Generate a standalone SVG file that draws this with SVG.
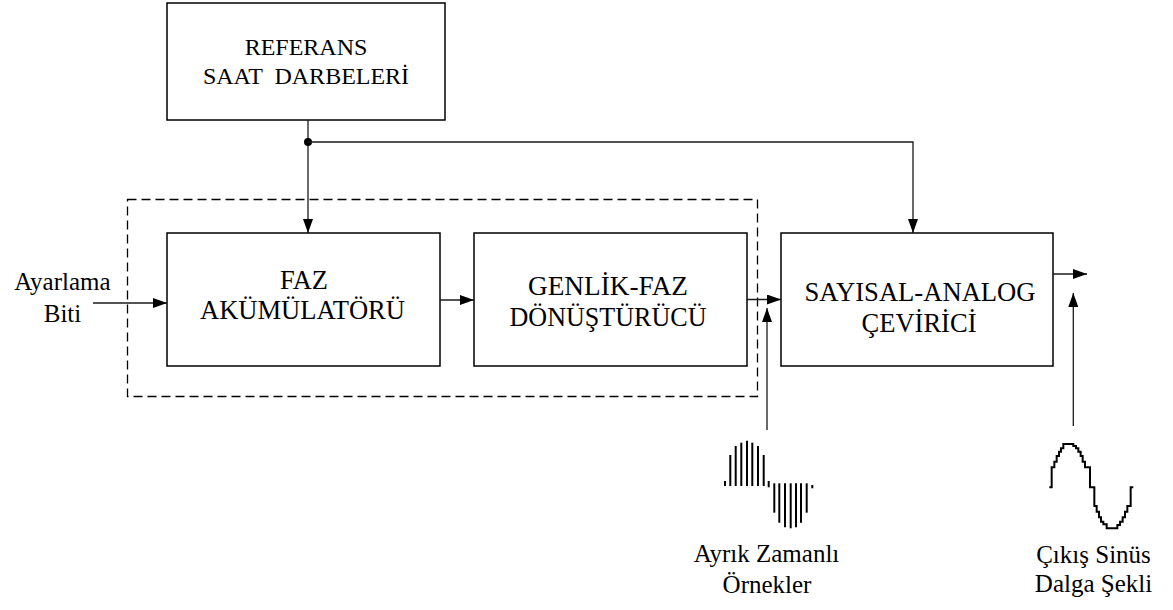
<svg xmlns="http://www.w3.org/2000/svg" width="1173" height="610" viewBox="0 0 1173 610">
  <style>
    .box { fill: #ffffff; stroke: #000000; stroke-width: 1.5; }
    .frame { fill: none; stroke: #000000; stroke-width: 1.3; stroke-dasharray: 9 5; }
    .wire { fill: none; stroke: #1a1a1a; stroke-width: 1.3; }
    text { font-family: "Liberation Serif", "Times New Roman", serif; fill: #000000; text-anchor: middle; }
    .t24 { font-size: 24px; }
    .t28 { font-size: 28px; }
    .t25 { font-size: 25px; }
    .bar { stroke: #000000; stroke-width: 2; }
  </style>
  <defs>
    <marker id="arrow" markerUnits="userSpaceOnUse" markerWidth="14" markerHeight="10" refX="14" refY="5" orient="auto">
      <path d="M0,0 L14,5 L0,10 Z" fill="#000000"/>
    </marker>
  </defs>

  <rect width="1173" height="610" fill="#ffffff"/>

  <!-- dashed outline around the accumulator and phase-to-amplitude stages -->
  <rect class="frame" x="127.5" y="199.5" width="630" height="197"/>

  <g id="clock">
    <rect class="box" x="167" y="3" width="278" height="117"/>
    <text class="t24" x="306" y="55">REFERANS</text>
    <text class="t24" x="306" y="84" xml:space="preserve">SAAT  DARBELERİ</text>
  </g>

  <g id="accumulator">
    <rect class="box" x="167" y="233" width="273" height="133"/>
    <text class="t28" x="304" y="289" textLength="48" lengthAdjust="spacingAndGlyphs">FAZ</text>
    <text class="t28" x="302.5" y="319" textLength="205" lengthAdjust="spacingAndGlyphs">AKÜMÜLATÖRÜ</text>
  </g>

  <g id="converter">
    <rect class="box" x="474" y="233" width="273" height="133"/>
    <text class="t28" x="608" y="295" textLength="160" lengthAdjust="spacingAndGlyphs">GENLİK-FAZ</text>
    <text class="t28" x="608" y="326" textLength="197" lengthAdjust="spacingAndGlyphs">DÖNÜŞTÜRÜCÜ</text>
  </g>

  <g id="dac">
    <rect class="box" x="781" y="233" width="272" height="133"/>
    <text class="t28" x="920" y="301" textLength="231" lengthAdjust="spacingAndGlyphs">SAYISAL-ANALOG</text>
    <text class="t28" x="919" y="332" textLength="115" lengthAdjust="spacingAndGlyphs">ÇEVİRİCİ</text>
  </g>

  <g id="input-label">
    <text class="t25" x="62.5" y="290">Ayarlama</text>
    <text class="t25" x="62.5" y="322">Biti</text>
  </g>

  <g id="samples">
    <line class="bar" x1="725" y1="481" x2="725" y2="486"/>
    <line class="bar" x1="730.3" y1="455" x2="730.3" y2="486"/>
    <line class="bar" x1="735.7" y1="446" x2="735.7" y2="486"/>
    <line class="bar" x1="741.3" y1="442.7" x2="741.3" y2="486"/>
    <line class="bar" x1="747" y1="440.7" x2="747" y2="486"/>
    <line class="bar" x1="752.3" y1="442.7" x2="752.3" y2="486"/>
    <line class="bar" x1="758" y1="446" x2="758" y2="486"/>
    <line class="bar" x1="763.7" y1="455" x2="763.7" y2="486"/>
    <line class="bar" x1="768.7" y1="481" x2="768.7" y2="487.3"/>
    <line class="bar" x1="774.3" y1="483.3" x2="774.3" y2="512.7"/>
    <line class="bar" x1="779.3" y1="483.3" x2="779.3" y2="522.7"/>
    <line class="bar" x1="785" y1="483.3" x2="785" y2="527.3"/>
    <line class="bar" x1="790.7" y1="483.3" x2="790.7" y2="528.3"/>
    <line class="bar" x1="796" y1="483.3" x2="796" y2="527.3"/>
    <line class="bar" x1="801" y1="483.3" x2="801" y2="522.7"/>
    <line class="bar" x1="806.7" y1="483.3" x2="806.7" y2="512.7"/>
    <line class="bar" x1="812.3" y1="485" x2="812.3" y2="488.3"/>
    <text class="t25" x="766.5" y="562">Ayrık Zamanlı</text>
    <text class="t25" x="767" y="593">Örnekler</text>
  </g>

  <g id="sine-output">
    <path transform="translate(1040,430) scale(0.33333)" fill="none" stroke="#000000" stroke-width="6"
          d="M28,172 H35 V112 H43 V95 H50 V78 H57 V65 H63 V55 H70 V42 H100 V48 H108 V55 H115 V65 H122 V78 H128 V95 H135 V112 H150 V172 H163 V228 H170 V245 H177 V262 H183 V275 H190 V283 H200 V295 H232 V285 H240 V275 H248 V262 H255 V245 H262 V228 H272 V172 H280"/>
    <text class="t25" x="1093.5" y="563">Çıkış Sinüs</text>
    <text class="t25" x="1093.5" y="592">Dalga Şekli</text>
  </g>

  <g id="connectors">
    <line class="wire" x1="308" y1="120" x2="308" y2="233" marker-end="url(#arrow)"/>
    <circle cx="308" cy="142" r="4" fill="#000000"/>
    <polyline class="wire" points="308,142 913,142 913,233" marker-end="url(#arrow)"/>
    <line class="wire" x1="93" y1="303" x2="167" y2="303" marker-end="url(#arrow)"/>
    <line class="wire" x1="440" y1="300" x2="474" y2="300" marker-end="url(#arrow)"/>
    <line class="wire" x1="747" y1="299.5" x2="781" y2="299.5" marker-end="url(#arrow)"/>
    <line class="wire" x1="767" y1="430" x2="767" y2="308" marker-end="url(#arrow)"/>
    <line class="wire" x1="1053" y1="274" x2="1087" y2="274" marker-end="url(#arrow)"/>
    <line class="wire" x1="1073.3" y1="426" x2="1073.3" y2="293" marker-end="url(#arrow)"/>
  </g>
</svg>
